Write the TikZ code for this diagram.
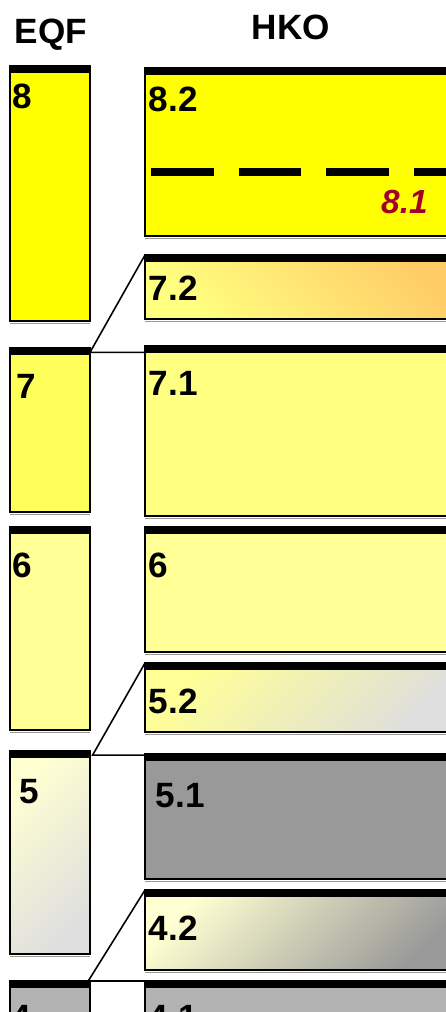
\documentclass[tikz,border=0pt]{standalone}
\usepackage{fontspec}
\setmainfont{Liberation Sans}
\usetikzlibrary{positioning}
\definecolor{lvleight}{RGB}{255,255,0}
\definecolor{lvlseven}{RGB}{255,255,90}
\definecolor{lvlsevenone}{RGB}{255,255,130}
\definecolor{lvlsix}{RGB}{255,255,150}
\definecolor{sevtwoorange}{RGB}{255,204,102}
\definecolor{sevtwolight}{RGB}{255,255,128}
\definecolor{paleyellow}{RGB}{255,255,210}
\definecolor{lightgrey}{RGB}{222,222,222}
\definecolor{midgrey}{RGB}{153,153,153}
\definecolor{fourgrey}{RGB}{179,179,179}
\definecolor{eightone}{RGB}{165,0,38}

\begin{document}
\begin{tikzpicture}[x=0.02cm,y=-0.02cm,
  font=\bfseries\fontsize{20}{24}\selectfont,
  lvl/.style={draw=black,line width=0.8pt,inner sep=0pt,outer sep=0pt,
    anchor=north west},
  eqf/.style={lvl,minimum width=1.6cm},
  hko/.style={lvl,minimum width=6.3cm},
  num/.style={inner sep=0pt,anchor=base west},
  link/.style={line width=0.9pt}]

% page = 446 x 1012 px, y runs downwards; HKO boxes run off the right edge
\clip (0,0) rectangle (446,1012);

% column headings
\node[inner sep=0pt,anchor=base] (eqfhd) at (51,43) {EQF};
\node[inner sep=0pt,anchor=base] (hkohd) at (291,39) {HKO};

% ---- EQF column ----
\node[eqf,fill=lvleight,minimum height=5.1cm] (e8) at (10,66) {};
\node[eqf,fill=lvlseven,minimum height=3.28cm] (e7) at (10,348) {};
\node[eqf,fill=lvlsix,minimum height=4.06cm] (e6) at (10,527) {};
\node[eqf,top color=paleyellow,bottom color=lightgrey,shading angle=45,
  minimum height=4.06cm] (e5) at (10,751) {};
\node[eqf,fill=fourgrey,minimum height=1.4cm] (e4) at (10,981) {};

% ---- HKO column ----
\node[hko,fill=lvleight,minimum height=3.36cm] (h82) at (145,68) {};
\node[hko,top color=sevtwoorange,bottom color=sevtwolight,shading angle=-45,
  minimum height=1.28cm] (h72) at (145,255) {};
\node[hko,fill=lvlsevenone,minimum height=3.4cm] (h71) at (145,346) {};
\node[hko,fill=lvlsix,minimum height=2.5cm] (h6) at (145,527) {};
\node[hko,top color=lvlsix,bottom color=lightgrey,shading angle=45,
  minimum height=1.38cm] (h52) at (145,663) {};
\node[hko,fill=midgrey,minimum height=2.5cm] (h51) at (145,754) {};
\node[hko,top color=paleyellow,bottom color=midgrey,shading angle=45,
  minimum height=1.6cm] (h42) at (145,890) {};
\node[hko,fill=fourgrey,minimum height=1.4cm] (h41) at (145,981) {};

% black top bars + faint shadow under each box
\foreach \b in {e8,e7,e6,e5,e4,h82,h72,h71,h6,h52,h51,h42,h41}{
  \fill ([yshift=0.4pt]\b.north west) rectangle ([yshift=-4pt]\b.north east);
  \draw[black!40,line width=0.6pt] ([yshift=-1.3pt]\b.south west)
    -- ([yshift=-1.3pt]\b.south east);
}

% 8.1 boundary inside 8.2
\draw[line width=4.2pt,dash pattern=on 35.7pt off 14.2pt] (151,172) -- (460,172);

% level numbers
\node[num] (n8) at (12.5,108) {8};
\node[num] (n7) at (16.5,398) {7};
\node[num] (n6) at (12.5,577) {6};
\node[num] (n5) at (19.5,803) {5};
\node[num] (n4) at (11,1029) {4};
\node[num] (n82) at (148.5,111) {8.2};
\node[num,anchor=base east,text=eightone,
  font=\bfseries\itshape\fontsize{19}{23}\selectfont] (n81) at (428,213) {8.1};
\node[num] (n72) at (148.5,300) {7.2};
\node[num] (n71) at (148.5,395) {7.1};
\node[num] (nh6) at (148.5,577) {6};
\node[num] (n52) at (148.5,713) {5.2};
\node[num] (n51) at (155.5,807) {5.1};
\node[num] (n42) at (148.5,940) {4.2};
\node[num] (n41) at (148.5,1029) {4.1};

% splits: EQF level -> two HKO sub-levels
\coordinate (j7) at ([yshift=-2.5pt]e7.north east);
\coordinate (j5) at ([xshift=1.5pt,yshift=-2.3pt]e5.north east);
\coordinate (j4) at ([xshift=-1pt]e4.north east);
\draw[link] (h72.north west) -- (j7) -- (j7 -| h71.west);
\draw[link] (h52.north west) -- (j5) -- (j5 -| h51.west);
\draw[link] (h42.north west) -- (j4) -- (j4 -| h41.west);
\end{tikzpicture}
\end{document}
